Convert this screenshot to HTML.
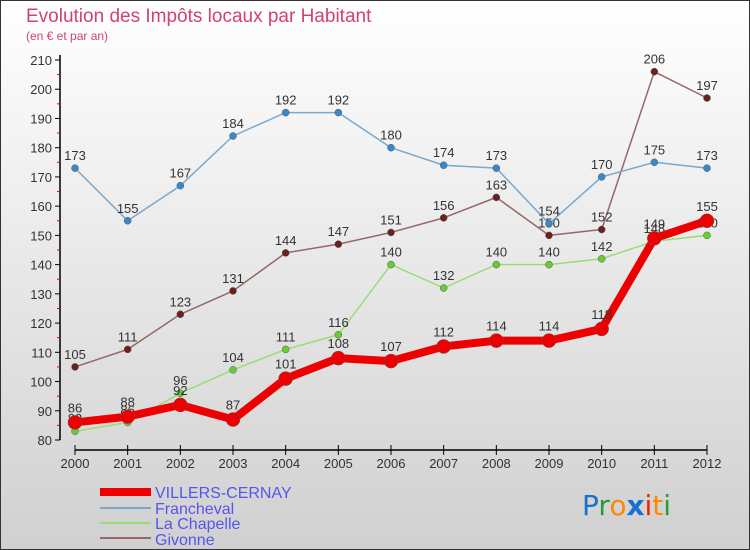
<!DOCTYPE html>
<html><head><meta charset="utf-8"><style>
body{margin:0;}
#c{width:750px;height:550px;position:relative;overflow:hidden;font-family:"Liberation Sans",sans-serif;}
</style></head><body>
<div id="c">
<svg id="s" width="750" height="550" xmlns="http://www.w3.org/2000/svg">
<defs><linearGradient id="bg" x1="0" y1="0" x2="0" y2="1"><stop offset="0" stop-color="#ffffff"/><stop offset="1" stop-color="#d0d0d0"/></linearGradient></defs>
<rect x="0.5" y="0.5" width="749" height="549" fill="url(#bg)" stroke="#333"/>
<text x="26" y="22" font-size="19" fill="#d0407a">Evolution des Impôts locaux par Habitant</text>
<text x="26" y="40" font-size="12" fill="#d0407a">(en € et par an)</text>
<g id="axes"></g><g id="series"></g>
<g font-size="16" fill="#5555ee">
<line x1="100" y1="492" x2="151" y2="492" stroke="#e00" stroke-width="8"/>
<text x="155" y="498">VILLERS-CERNAY</text>
<line x1="100" y1="508" x2="151" y2="508" stroke="#7aa8cc" stroke-width="2"/>
<text x="155" y="514">Francheval</text>
<line x1="100" y1="523" x2="151" y2="523" stroke="#99dd77" stroke-width="2"/>
<text x="155" y="529">La Chapelle</text>
<line x1="100" y1="538" x2="151" y2="538" stroke="#996666" stroke-width="2"/>
<text x="155" y="545">Givonne</text>
</g>
<g font-size="28" font-family="'DejaVu Sans',sans-serif">
<text x="582" y="515"><tspan fill="#1a6fd0">P</tspan><tspan fill="#2a9a3a">r</tspan><tspan fill="#ff8800">o</tspan><tspan fill="#1a6fd0" font-weight="bold">x</tspan><tspan fill="#ee2200">i</tspan><tspan fill="#ff8800">t</tspan><tspan fill="#2a9a3a">i</tspan></text>
</g>
</svg>
</div>
<script>
const years=[2000,2001,2002,2003,2004,2005,2006,2007,2008,2009,2010,2011,2012];
const villers=[86,88,92,87,101,108,107,112,114,114,118,149,155];
const francheval=[173,155,167,184,192,192,180,174,173,154,170,175,173];
const lachapelle=[83,86,96,104,111,116,140,132,140,140,142,148,150];
const givonne=[105,111,123,131,144,147,151,156,163,150,152,206,197];
const yTicks=[80,90,100,110,120,130,140,150,160,170,180,190,200,210];
const NS="http://www.w3.org/2000/svg";
const X=i=>75+i*(707-75)/12;
const Y=v=>440-(v-80)*(380/130);
function mk(t,a,p){const e=document.createElementNS(NS,t);for(const k in a)e.setAttribute(k,a[k]);p.appendChild(e);return e;}
const ax=document.getElementById('axes');
const yl=mk('line',{x1:60,y1:55,x2:60,y2:440,stroke:'#000','stroke-width':1.5},ax);


const xl=mk('line',{x1:75,y1:450,x2:707,y2:450,stroke:'#000','stroke-width':1.5},ax);


yTicks.forEach((v,i)=>{
  mk('line',{x1:55,y1:Y(v),x2:60,y2:Y(v),stroke:'#000'},ax);
  if(i<yTicks.length-1)mk('line',{x1:57,y1:Y(v+5),x2:60,y2:Y(v+5),stroke:'#e00'},ax);
  const t=mk('text',{x:52,y:Y(v)+5,'text-anchor':'end','font-size':13,fill:'#333'},ax);t.textContent=v;
  
  
});
years.forEach((y,i)=>{
  mk('line',{x1:X(i),y1:445,x2:X(i),y2:455,stroke:'#000'},ax);
  const t=mk('text',{x:X(i),y:468,'text-anchor':'middle','font-size':13,fill:'#333'},ax);t.textContent=y;
  
  
});
const sg=document.getElementById('series');
function series(data,color,dot,w,r,name){
  const g=mk('g',{},sg);
  
  
  mk('polyline',{points:data.map((v,i)=>X(i)+','+Y(v)).join(' '),fill:'none',stroke:color,'stroke-width':w,'stroke-linejoin':'round'},g);
  data.forEach((v,i)=>{
    const c=mk('circle',{cx:X(i),cy:Y(v),r:r,fill:dot,stroke:'#555','stroke-width':0.5},g);
    
    
    const t=mk('text',{x:X(i),y:Y(v)-8-(r>5?2:0),'text-anchor':'middle','font-size':13,fill:'#333'},g);t.textContent=v;
    
    
  });
}
series(givonne,'#996666','#6b1f1f',1.5,3.5,'givonne');
series(francheval,'#7aa8cc','#3a88cc',1.5,3.5,'francheval');
series(lachapelle,'#99dd77','#66cc33',1.5,3.5,'lachapelle');
series(villers,'#ee0000','#ee0000',8,7,'villers');
</script>
</body></html>
